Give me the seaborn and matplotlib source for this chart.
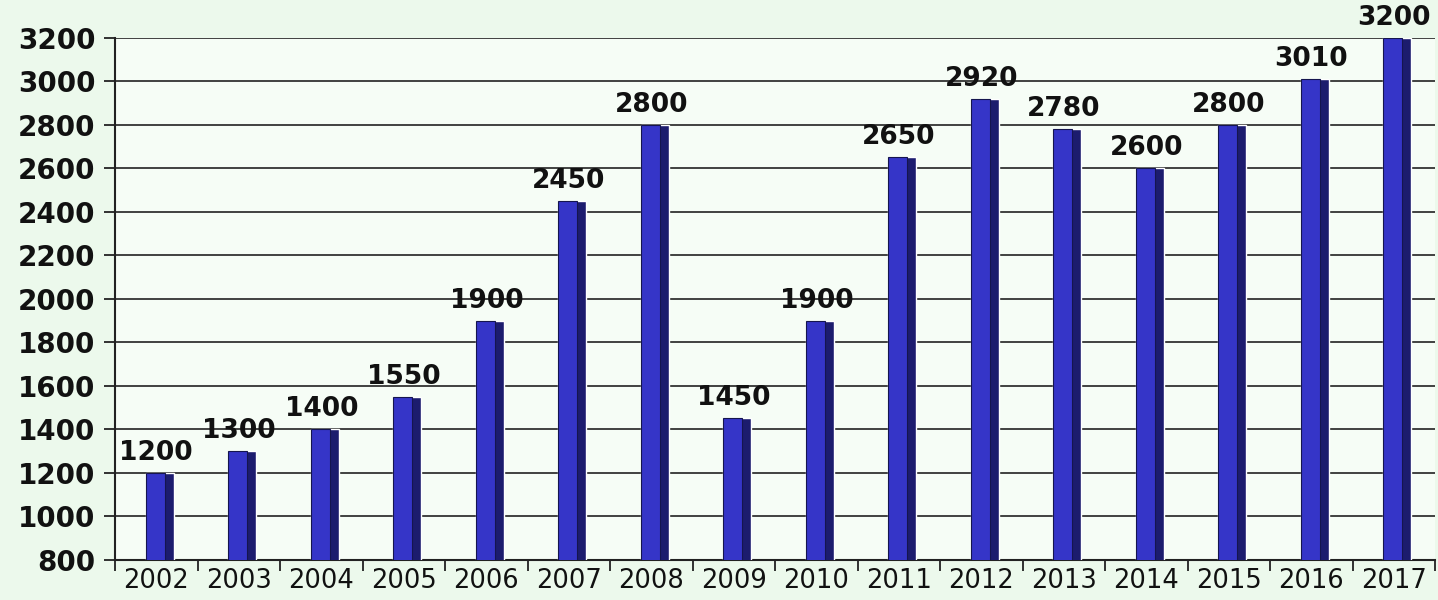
import seaborn as sns
import matplotlib.pyplot as plt
import pandas as pd
import numpy as np

years  = ['2002', '2003', '2004', '2005', '2006', '2007', '2008', '2009',
          '2010', '2011', '2012', '2013', '2014', '2015', '2016', '2017']
values = [1200, 1300, 1400, 1550, 1900, 2450, 2800, 1450,
          1900, 2650, 2920, 2780, 2600, 2800, 3010, 3200]
y_ticks = list(range(800, 3201, 200))

df = pd.DataFrame({'year': years, 'value': values})

sns.set_theme(style='white')
plt.rcParams['font.family'] = ['DejaVu Sans']

fig = plt.figure(figsize=(14.38, 6), dpi=100, facecolor='#ecf9ec')
ax = fig.add_axes([0.080, 0.067, 0.918, 0.870])
ax.set_facecolor('#f6fdf6')

# dark side of the bar (3d look), then the front face
sns.barplot(data=df, x='year', y='value', color='#1c1c6e', width=0.34,
            saturation=1, ax=ax, zorder=3)
for p in ax.patches:
    p.set_x(p.get_x() + 0.04)
n_side = len(ax.patches)
sns.barplot(data=df, x='year', y='value', color='#3535c8', width=0.23,
            saturation=1, ax=ax, zorder=4)
for p in ax.patches[n_side:]:
    p.set_x(p.get_x() - 0.012)
    p.set_edgecolor('#15154f')
    p.set_linewidth(0.8)

# value labels
for i, v in enumerate(values):
    ax.annotate(str(v), (i, v), xytext=(0, 5), textcoords='offset points',
                ha='center', va='bottom', fontsize=19, fontweight='bold',
                color='#111111', zorder=5, annotation_clip=False)

ax.set_ylim(800, 3200)
ax.set_xlim(-0.5, len(years) - 0.5)
ax.set_yticks(y_ticks)
ax.set_yticklabels([str(t) for t in y_ticks], fontsize=20, fontweight='bold', color='#111111')
ax.set_xticklabels(years, fontsize=18.5, color='#111111')
ax.set_xlabel('')
ax.set_ylabel('')

ax.yaxis.grid(True, color='#333333', linewidth=1.3, zorder=0)
ax.set_axisbelow(True)
for s in ['top', 'right']:
    ax.spines[s].set_visible(False)
ax.spines['left'].set_color('#222222')
ax.spines['left'].set_linewidth(1.5)
ax.spines['bottom'].set_color('#222222')
ax.spines['bottom'].set_linewidth(1.5)

ax.tick_params(axis='y', length=8, width=1.3, color='#222222', pad=6, left=True)
ax.tick_params(axis='x', length=8, width=1.3, color='#222222', pad=6, bottom=True)
# x ticks sit between categories
ax.set_xticks(np.arange(len(years) + 1) - 0.5, minor=True)
ax.tick_params(axis='x', which='minor', length=8, width=1.3, color='#222222', bottom=True)
ax.tick_params(axis='x', which='major', length=0)

fig.savefig('out.png', dpi=100, facecolor=fig.get_facecolor())
